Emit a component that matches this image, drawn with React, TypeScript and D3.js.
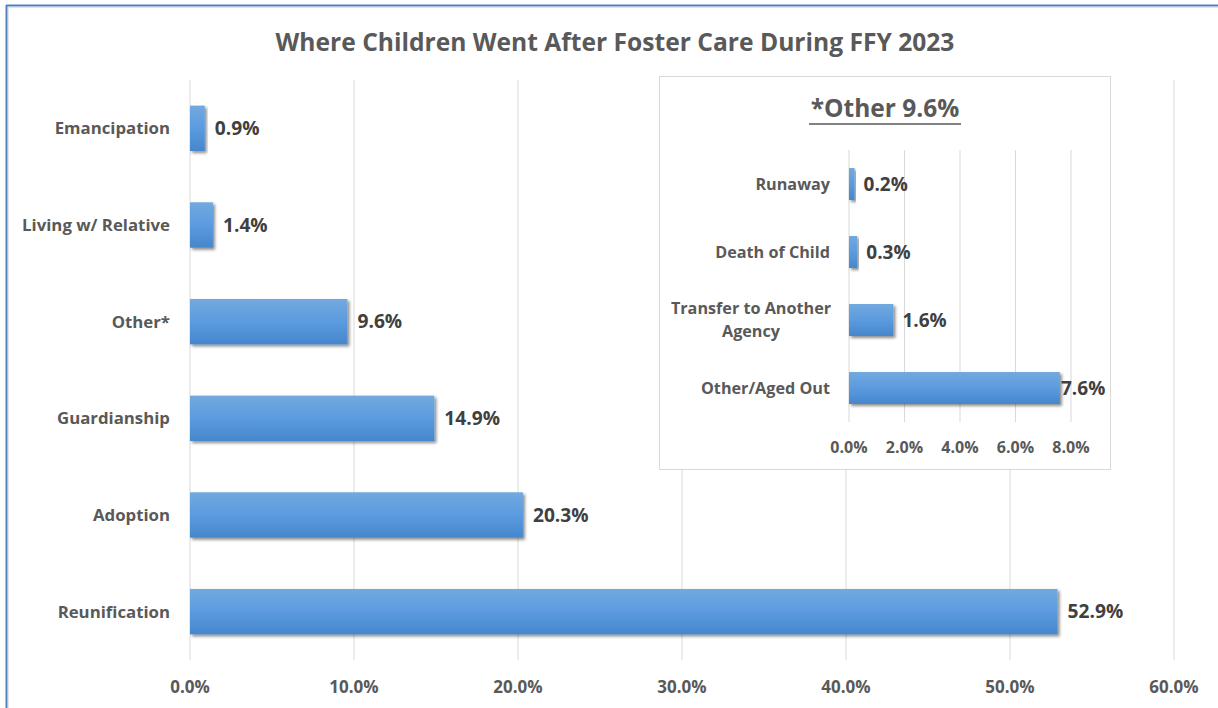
import React from "react";
import * as d3 from "d3";

// main chart data
const categories = ["Emancipation", "Living w/ Relative", "Other*", "Guardianship", "Adoption", "Reunification"];
const values = [0.9, 1.4, 9.6, 14.9, 20.3, 52.9];
const xTicks = [0, 10, 20, 30, 40, 50, 60];

// inset ("*Other") data
const otherCategories = ["Runaway", "Death of Child", "Transfer to Another Agency", "Other/Aged Out"];
const otherValues = [0.2, 0.3, 1.6, 7.6];
const otherTicks = [0, 2, 4, 6, 8];

const W = 1218;
const H = 708;
const FONT = "'Open Sans', sans-serif";
const GRID = "#d9d9d9";
const TEXT = "#595959";
const VAL = "#404040";

const fmt = (v: number) => v.toFixed(1) + "%";

const App = () => {
  // main scales
  const x = d3.scaleLinear().domain([0, 60]).range([190, 1174]);
  const y = d3.scaleBand().domain(categories).range([80, 660]).paddingInner(0.53).paddingOuter(0.265);

  // inset scales
  const ix = d3.scaleLinear().domain([0, 8]).range([849, 1071]);
  const iy = d3.scaleBand().domain(otherCategories).range([150, 422]).paddingInner(0.53).paddingOuter(0.265);

  return (
    <svg
      width={W}
      height={H}
      style={{ position: "absolute", left: 0, top: 0, background: "#fff" }}
      fontFamily={FONT}
    >
      <defs>
        <linearGradient id="barGrad" x1="0" y1="0" x2="0" y2="1">
          <stop offset="0%" stopColor="#72a9de" />
          <stop offset="50%" stopColor="#5b9be0" />
          <stop offset="100%" stopColor="#4686cc" />
        </linearGradient>
        <filter id="shadow" x="-10%" y="-20%" width="130%" height="160%">
          <feDropShadow dx="2" dy="2" stdDeviation="1.5" floodColor="#000" floodOpacity="0.45" />
        </filter>
      </defs>

      {/* frame */}
      <line x1={6.5} y1={5} x2={6.5} y2={H} stroke="#4f81bd" strokeWidth={2} />
      <line x1={6} y1={5.5} x2={W} y2={5.5} stroke="#4f81bd" strokeWidth={2} />
      <line x1={8.5} y1={7} x2={8.5} y2={H} stroke="#e4e4e4" strokeWidth={1} />
      <line x1={8} y1={7.5} x2={W} y2={7.5} stroke="#e4e4e4" strokeWidth={1} />

      <text x={615} y={51} textAnchor="middle" fontSize={24.6} fontWeight={700} fill={TEXT}>
        Where Children Went After Foster Care During FFY 2023
      </text>

      {/* main gridlines */}
      {xTicks.map((t) => (
        <line key={t} x1={x(t)} x2={x(t)} y1={80} y2={660} stroke={GRID} strokeWidth={1} />
      ))}
      {xTicks.map((t) => (
        <text key={"t" + t} x={x(t)} y={693} textAnchor="middle" fontSize={17} fontWeight={700} fill={TEXT}>
          {fmt(t)}
        </text>
      ))}

      {/* main bars */}
      {categories.map((c, i) => {
        const by = y(c)!;
        const bh = y.bandwidth();
        return (
          <g key={c}>
            <rect x={x(0)} y={by} width={x(values[i]) - x(0)} height={bh} fill="url(#barGrad)" filter="url(#shadow)" />
            <text x={x(0) - 20} y={by + bh / 2} dy="0.35em" textAnchor="end" fontSize={16.8} fontWeight={700} fill={TEXT}>
              {c}
            </text>
            <text x={x(values[i]) + 10} y={by + bh / 2} dy="0.35em" fontSize={19.2} fontWeight={700} fill={VAL}>
              {fmt(values[i])}
            </text>
          </g>
        );
      })}

      {/* inset */}
      <rect x={659.5} y={76.5} width={451} height={393} fill="#fff" stroke="#d9d9d9" strokeWidth={1} />
      <text x={885} y={117} textAnchor="middle" fontSize={24.5} fontWeight={700} fill={TEXT}>
        *Other 9.6%
      </text>
      <line x1={809} x2={961} y1={124} y2={124} stroke={TEXT} strokeWidth={1.5} />

      {otherTicks.map((t) => (
        <line key={t} x1={ix(t)} x2={ix(t)} y1={150} y2={422} stroke={GRID} strokeWidth={1} />
      ))}
      {otherTicks.map((t) => (
        <text key={"o" + t} x={ix(t)} y={453} textAnchor="middle" fontSize={16} fontWeight={700} fill={TEXT}>
          {fmt(t)}
        </text>
      ))}

      {otherCategories.map((c, i) => {
        const by = iy(c)!;
        const bh = iy.bandwidth();
        const cy = by + bh / 2;
        const lines = c === "Transfer to Another Agency" ? ["Transfer to Another", "Agency"] : [c];
        return (
          <g key={c}>
            <rect x={ix(0)} y={by} width={ix(otherValues[i]) - ix(0)} height={bh} fill="url(#barGrad)" filter="url(#shadow)" />
            {lines.length === 1 ? (
              <text x={830} y={cy} dy="0.35em" textAnchor="end" fontSize={16.2} fontWeight={700} fill={TEXT}>
                {c}
              </text>
            ) : (
              lines.map((l, k) => (
                <text
                  key={l}
                  x={751}
                  y={cy + (k - 0.5) * 23}
                  dy="0.35em"
                  textAnchor="middle"
                  fontSize={16.2}
                  fontWeight={700}
                  fill={TEXT}
                >
                  {l}
                </text>
              ))
            )}
            <text x={Math.min(ix(otherValues[i]) + 9, 1061)} y={cy} dy="0.35em" fontSize={19} fontWeight={700} fill={VAL}>
              {fmt(otherValues[i])}
            </text>
          </g>
        );
      })}
    </svg>
  );
};

export default App;
